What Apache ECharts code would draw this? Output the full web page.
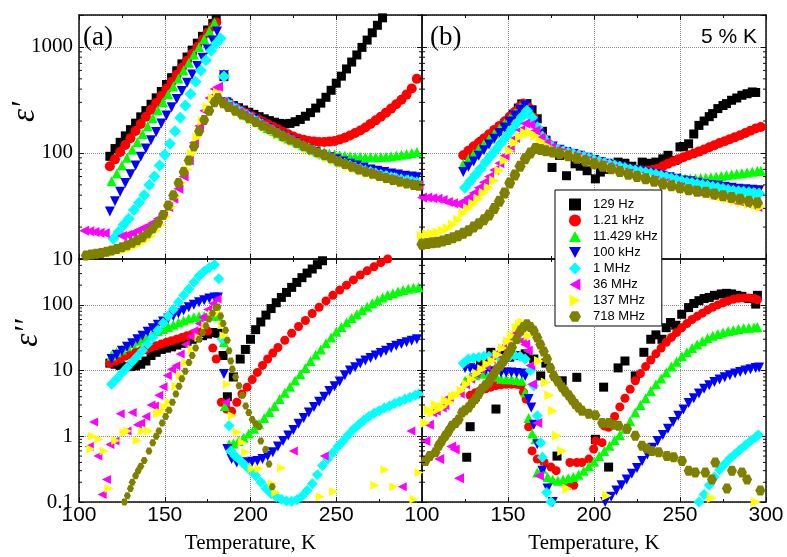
<!DOCTYPE html>
<html><head><meta charset="utf-8">
<script src="https://cdn.jsdelivr.net/npm/echarts@6.0.0/dist/echarts.min.js"></script>
<style>html,body{margin:0;padding:0;background:#fff}#main{width:787px;height:557px}</style>
</head><body><div id="main"></div>
<script>
// ---------------- DATA ----------------
const freqNames = ['129 Hz','1.21 kHz','11.429 kHz','100 kHz','1 MHz','36 MHz','137 MHz','718 MHz'];
const xTicks = [100,150,200,250,300];
const yTicksTop = [10,100,1000];
const yTicksBottom = [0.1,1,10,100];
const xTitle = 'Temperature, K';
const panelLabels = ['(a)','(b)'];
const sampleLabel = '5 % K';
const yTitles = ['ε′','ε′′'];

// Panel (a): eps' (top-left)
const A_129Hz = [[118,93],[121,110],[124,126],[127,145],[130,166],[133,191],[136,219],[139,251],[142,288],[145,331],[148,380],[151,442],[154,513],[157,596],[160,692],[163,803],[166,933],[169,1084],[172,1259],[175,1445],[178,1660],[180,1820],[184.5,525],[187,295],[190,280],[193,267],[196,254],[199,242],[202,231],[205,220],[208,210],[211,202],[214,195],[217,190],[220,188],[223,190],[226,197],[229,207],[232,222],[235,240],[238,265],[241,295],[244,335],[247,390],[250,455],[253,530],[256,620],[259,720],[262,840],[265,990],[268,1160],[271,1360],[274,1600],[277,1880]];
const A_1_21kHz = [[118,75],[121,87],[124,102],[127,119],[130,138],[133,161],[136,188],[139,219],[142,255],[145,296],[148,345],[151,402],[154,468],[157,545],[160,635],[163,740],[166,860],[169,1000],[172,1170],[175,1360],[178,1560],[180,1700],[186,300],[189,282],[192,265],[195,250],[198,236],[201,222],[204,210],[207,198],[210,187],[213,177],[216,167],[219,158],[222,150],[225,143],[228,137],[231,133],[234,130],[237,128],[240,127],[243,127],[246,128],[249,130],[252,134],[255,139],[258,146],[261,154],[264,163],[267,174],[270,188],[273,203],[276,220],[279,240],[282,262],[285,288],[288,318],[291,355],[294,405],[297,500]];
const A_11_429kHz = [[119,54],[122,64],[125,76],[128,90],[131,107],[134,127],[137,151],[140,179],[143,213],[146,253],[149,300],[152,357],[155,424],[158,503],[161,598],[164,710],[167,843],[170,1000],[173,1190],[176,1410],[179,1700],[184.5,560],[186,300],[189,277],[192,258],[195,242],[198,227],[201,212],[204,198],[207,186],[210,172],[213,162],[216,152],[219,145],[222,137],[225,130],[228,124],[231,118],[234,113],[237,109],[240,105],[243,102],[246,99],[249,97],[252,95],[255,94],[258,93],[261,92],[264,91.5],[267,91],[270,91],[273,91],[276,91.5],[279,92],[282,93],[285,94.5],[288,96],[291,98],[294,100],[297,102]];
const A_100kHz = [[118,28],[121,35],[124,43],[127,52],[130,63],[133,76],[136,92],[139,110],[142,132],[145,158],[148,190],[151,226],[154,270],[157,322],[160,385],[163,460],[166,550],[169,660],[172,790],[175,950],[178,1150],[180.5,1400],[184.5,540],[186,300],[190,272],[194,248],[198,228],[202,209],[206,190],[210,172],[214,158],[218,146],[222,136],[226,126],[230,117],[234,109],[238,102],[242,96],[246,91],[250,87],[254,83],[258,79],[262,76],[266,73],[270,70],[274,68],[278,66],[282,64],[286,62.5],[290,61],[294,60],[297,59]];
const A_1MHz = [[120,15.5],[123,18],[126,21],[129,24],[132,29],[135,34],[138,40],[141,50],[144,60],[147,76],[150,96],[153,122],[156,160],[159,215],[162,280],[165,360],[168,470],[171,600],[174,750],[177,920],[180,1080],[182.5,1200],[184.5,525],[186,300],[189,278],[192,260],[195,243],[198,228],[201,213],[204,198],[207,185],[210,172],[213,162],[216,152],[219,144],[222,136],[225,128],[228,121],[231,115],[234,109],[237,103],[240,98],[243,94],[246,90],[249,86],[252,82],[255,79],[258,76],[261,73],[264,70.5],[267,68],[270,66],[273,64],[276,62],[279,60.5],[282,59],[285,57.5],[288,56],[291,55],[294,54],[297,53]];
const A_36MHz = [[103,18.5],[106,18.3],[109,18],[112,17.7],[115,17.5],[125,16.5],[128,16.8],[131,17.5],[134,18.5],[137,19.5],[140,20.5],[143,22],[146,24],[149,27],[152,31],[155,37],[158,46],[161,60],[164,85],[167,125],[170,180],[173,250],[176,330],[179,400],[181,420],[184,300],[187,275],[190,258],[193,243],[196,229],[199,214],[202,200],[205,188],[208,176],[211,165],[214,156],[217,147],[220,139],[223,131],[226,124],[229,117],[232,111],[235,105],[238,100],[241,95],[244,91],[247,87],[250,83],[253,79],[256,76],[259,73],[262,70],[265,67.5],[268,65],[271,62.5],[274,60.5],[277,58.5],[280,57],[283,55.5],[286,54],[289,52.5],[292,51.5],[295,50.5],[298,49.5]];
const A_137MHz = [[118,11.5],[121,11.7],[124,12],[127,12.3],[130,12.7],[133,13.3],[136,14],[139,15],[142,16.5],[145,18.5],[148,21],[151,25],[154,31],[157,39],[160,52],[163,70],[166,98],[169,140],[172,200],[175,270],[178,330],[181,370],[185,290],[189,265],[193,243],[197,224],[201,205],[205,190],[209,174],[213,160],[217,148],[221,137],[225,127],[229,118],[233,110],[237,103],[241,96],[245,90],[249,85],[253,80],[257,75],[261,71],[265,67.5],[269,64.5],[273,61.5],[277,59],[281,56.5],[285,54.5],[289,52.5],[293,51],[297,49.5]];
const A_718MHz = [[104,10.8],[107,11],[110,11.2],[113,11.4],[116,11.7],[119,12],[122,12.4],[125,12.9],[128,13.5],[131,14.2],[134,15],[137,16],[140,17.5],[143,19.5],[146,22],[149,26],[152,32],[155,40],[158,52],[161,66],[164,85],[167,115],[170,160],[173,205],[176,250],[179,300],[181,330],[184,295],[187,272],[191,250],[195,231],[199,213],[203,196],[207,181],[211,167],[215,155],[219,143],[223,133],[227,124],[231,116],[235,108],[239,101],[243,95],[247,89],[251,83],[255,78.5],[259,74],[263,70],[267,66.5],[271,63.5],[275,60.5],[279,58],[283,55.5],[287,53.5],[291,51.5],[295,50],[298,49]];

// Panel (b): eps' (top-right)
const B_129Hz = [[126,95],[129,105],[132,116],[135,128],[138,138],[141,148],[144,160],[147,178],[150,200],[153,232],[156,265],[158,290],[161,292],[164,255],[167,210],[170,160],[172,132],[175.6,73],[180,95],[184,61],[189,79],[192,75],[196,68],[200.8,57],[203.7,66],[207,70],[211,78],[214,82],[218,80],[222,75],[228,82],[232,80],[236,82],[240,88],[243,95],[247,85],[250,114],[252,115],[255,122],[258,151],[261,182],[264,200],[267,220],[269,235],[272,262],[275,280],[277,292],[280,314],[283,330],[286,350],[289,362],[292,376],[294,372]];
const B_1_21kHz = [[124,95],[127,105],[130,115],[133,125],[136,137],[139,150],[142,165],[145,180],[148,198],[151,220],[154,245],[157,275],[159,292],[162,268],[165,215],[168,163],[171,135],[174,120],[177,110],[180,106],[183,103],[186,100],[189,97],[192,94],[195,90],[198,87],[201,84],[204,82],[207,79],[210,77],[213,75],[216,73],[219,71.5],[222,70],[225,69],[228,68.5],[231,68.5],[234,69],[237,71],[240,75],[243,79],[246,83],[249,87],[252,91],[255,95],[258,99],[261,103],[264,108],[267,113],[270,118],[273,124],[276,129],[279,135],[282,141],[285,147],[288,154],[291,162],[294,170],[297,176]];
const B_11_429kHz = [[124,79],[127,88],[130,98],[133,110],[136,122],[139,136],[142,152],[145,170],[148,190],[151,212],[154,238],[157,268],[160,292],[163,250],[166,195],[169,150],[172,128],[175,116],[178,110],[181,106],[184,103],[187,100],[190,97],[193,94],[196,91],[199,88],[202,85],[205,82],[208,79],[211,77],[214,75],[217,73],[220,71],[223,69],[226,67],[229,65.5],[232,64],[235,62.5],[238,61],[241,60],[244,59],[247,58.5],[250,58],[253,57.5],[256,57.5],[259,57.5],[262,58],[265,58.5],[268,59],[271,59.5],[274,60.5],[277,61.5],[280,62.5],[283,63.5],[286,64.5],[289,65.5],[292,66.5],[295,67.5],[297,68]];
const B_100kHz = [[124,66],[127,74],[130,83],[133,94],[136,106],[139,120],[142,136],[145,154],[148,174],[151,198],[154,225],[157,255],[160,282],[163,250],[166,195],[169,150],[172,128],[176,115],[180,107],[184,102],[188,98],[192,94],[196,90],[200,86],[204,82],[208,79],[212,76],[216,74],[220,71],[224,69],[228,67],[232,65],[236,63],[240,61],[244,59],[248,57],[252,55],[256,54],[260,52.5],[264,51],[268,50],[272,49],[276,48],[280,47],[284,46],[288,45.5],[292,45],[296,44.5]];
const B_1MHz = [[125,47],[128,54],[131,62],[134,71],[137,82],[140,94],[143,108],[146,124],[149,143],[152,165],[155,190],[158,218],[161,250],[164,215],[167,175],[170,143],[173,125],[176,114],[179,108],[182,104],[185,101],[188,98],[191,95],[194,92],[197,89],[200,86],[203,83],[206,80],[209,78],[212,76],[215,74],[218,72],[221,70],[224,68.5],[227,67],[230,65.5],[233,64],[236,62.5],[239,61],[242,59],[245,57.5],[248,56],[251,54.5],[254,53],[257,52],[260,51],[263,50],[266,49],[269,48],[272,47],[275,46],[278,45],[281,44],[284,43.5],[287,43],[290,42.5],[293,42],[296,41.5]];
const B_36MHz = [[100,38],[103,38],[106,37.5],[109,37],[112,36],[115,34.5],[118,33.5],[121,33],[124,35],[127,38],[130,42],[133,47],[136,53],[139,60],[142,69],[145,80],[148,94],[151,112],[154,138],[157,165],[160,190],[163,185],[166,163],[169,140],[172,124],[175,113],[178,106],[181,101],[184,97],[187,94],[190,91],[193,88],[196,85],[199,82],[202,79],[205,76],[208,74],[211,71],[214,68.5],[217,66],[220,64],[223,62],[226,60],[229,58],[232,56.5],[235,55],[238,53.5],[241,52],[244,50.5],[247,49],[250,47.5],[253,46],[256,44.5],[259,43],[262,42],[265,41],[268,40],[271,39],[274,38],[277,37],[280,36],[283,35],[286,34],[289,33],[292,32],[295,31]];
const B_137MHz = [[100,16.6],[103,17],[106,17.3],[109,17.8],[112,18.5],[115,19.5],[118,21],[121,23.5],[124,27],[127,30],[130,33],[133,37],[136,42],[139,47],[142,55],[145,68],[148,85],[151,105],[154,125],[157,142],[160,155],[163,155],[166,145],[169,130],[172,118],[175,110],[178,106],[182,101],[186,96],[190,92],[194,88],[198,84],[202,80],[206,77],[210,73],[214,70],[218,67],[222,64],[226,61],[230,59],[234,57],[238,54],[242,52],[246,50],[250,48],[254,46],[258,44.5],[262,43],[266,41.5],[270,40],[274,38.5],[278,37],[282,35.5],[286,34],[290,33],[294,32],[297,31]];
const B_718MHz = [[100,13.8],[103,14],[106,14.2],[109,14.4],[112,14.8],[115,15.3],[118,15.9],[121,16.6],[124,17.5],[127,18.5],[130,20],[133,21.5],[136,23.5],[139,26],[142,30],[145,35],[148,42],[151,52],[154,62],[157,75],[160,88],[163,100],[166,110],[169,108],[172,105],[176,102],[180,99],[185,94],[190,89],[195,84],[200,79],[205,75],[210,71],[215,67],[220,63],[225,60],[230,57],[235,54],[240,51],[245,49],[250,47],[255,45],[260,43.5],[265,42.5],[270,41],[275,39.5],[280,38],[285,36.5],[290,35],[295,34]];

// Panel (a): eps'' (bottom-left)
const C_129Hz = [[118,13],[121,12.5],[124,12],[127,11.5],[130,11.5],[133,11.8],[136,12.5],[139,14],[142,17],[145,19],[148,21],[151,22],[154,23],[157,24.5],[160,26],[163,28],[166,30],[169,32],[172,34],[175,36],[178,38],[181,37],[184,17],[186.5,4],[190,8],[194,15],[197,21],[200,30],[203,42],[206,55],[209,70],[212,88],[215,108],[218,130],[221,155],[224,185],[227,220],[230,260],[233,305],[236,352],[239,410],[242,470]];
const C_1_21kHz = [[118,13],[121,14],[124,15],[127,16.5],[130,17.5],[133,19],[136,20],[139,21],[142,22.5],[145,24],[148,25.5],[151,27],[154,28.5],[157,30],[160,32],[163,34],[166,36],[169,38],[172,39.5],[175,40],[178,22],[180,15],[183,3.3],[186,2.6],[189,2.4],[192,3.3],[195,4.4],[198,5.6],[201,7.3],[204,9.4],[207,12],[210,15],[213,18.5],[216,22.5],[220,29],[224,37],[228,47],[232,58],[236,74],[240,92],[244,115],[248,140],[252,168],[256,200],[260,240],[264,285],[268,330],[272,380],[276,440],[280,500]];
const C_11_429kHz = [[119,17],[122,19],[125,21],[128,23.5],[131,26],[134,28.5],[137,31],[140,34],[143,37],[146,40],[149,43],[152,46],[155,50],[158,54],[161,58],[164,62],[167,65],[170,67],[173,68],[176,69],[179,69],[181,68],[184.5,27],[185,2.9],[187.5,0.76],[190,0.78],[193,0.85],[196,0.95],[199,1.1],[202,1.3],[205,1.55],[208,1.9],[211,2.35],[214,2.9],[217,3.7],[220,4.6],[223,5.7],[226,7.1],[229,8.8],[232,11],[235,14],[238,17.5],[241,21],[244,26],[247,32],[250,39],[253,46],[256,54],[259,63],[262,72],[265,83],[268,94],[271,106],[274,118],[277,130],[280,141],[283,151],[286,160],[289,168],[292,176],[295,182],[298,186]];
const C_100kHz = [[119,15],[122,17.5],[125,20],[128,23],[131,26],[134,30],[137,34],[140,39],[143,44],[146,50],[149,56],[152,62],[155,68],[158,75],[161,83],[164,92],[167,101],[170,110],[173,118],[176,125],[179,130],[181,130],[184.5,8.9],[186.5,0.64],[189,0.45],[192,0.4],[195,0.4],[198,0.4],[201,0.41],[204,0.42],[207,0.45],[210,0.5],[213,0.57],[216,0.7],[219,0.85],[222,1.03],[225,1.25],[228,1.55],[231,1.9],[234,2.3],[237,2.8],[240,3.35],[243,4],[246,4.9],[249,5.8],[252,6.8],[255,8.5],[258,10],[261,11.3],[264,12.8],[267,14.2],[270,15.6],[273,17],[276,18.5],[279,20],[282,22],[285,24],[288,25.5],[291,27],[294,28.5],[297,30]];
const C_1MHz = [[119,6.2],[122,7.5],[125,9.2],[128,11.2],[131,13.6],[134,16.6],[137,20.3],[140,25.5],[143,32],[146,41],[149,53],[152,68],[155,85],[158,110],[161,140],[164,175],[167,222],[170,275],[173,325],[176,370],[179,410],[181.5,250],[183.5,30],[187.5,1.45],[188.5,0.6],[191,0.5],[194,0.43],[197,0.36],[200,0.3],[203,0.25],[206,0.2],[209,0.16],[212,0.135],[215,0.12],[218,0.11],[221,0.104],[224,0.103],[227,0.108],[230,0.122],[233,0.15],[236,0.19],[239,0.26],[242,0.36],[245,0.45],[248,0.56],[251,0.7],[254,0.85],[257,1.05],[260,1.28],[263,1.5],[266,1.75],[269,2.0],[272,2.25],[275,2.45],[278,2.7],[281,2.9],[284,3.15],[287,3.4],[290,3.65],[293,3.9],[296,4.2],[298,4.4]];
const C_36MHz = [[106,0.7],[108.5,1.65],[111,0.5],[113.5,0.13],[116,0.22],[118,0.75],[121,0.85],[124,2.2],[128,1.2],[131,2.3],[134,1.5],[136,1.6],[139,2.0],[142,3.0],[144,2.9],[146.5,4.2],[149,5.7],[151.5,8.4],[154,10.5],[156.5,11.9],[159,17.9],[162,25],[165,33],[167,40.5],[170,52],[172,65],[175,85],[178,105],[180.5,123],[185.5,3.3],[225,0.6],[243,0.5],[288.5,0.17],[293.5,1.2]];
const C_137MHz = [[106.8,0.64],[107.8,1.0],[111.7,0.9],[114.6,0.6],[117.5,0.16],[121.4,0.86],[126.2,1.13],[128.2,1.2],[134,0.86],[137,1.2],[140.8,1.2],[145.7,2.2],[147.6,2.3],[150,2.8],[152.5,3.3],[156.4,5.8],[159.3,8.4],[162.2,13.3],[166,21],[170,32],[173.9,48],[177.8,72],[181.6,76],[183.6,50],[184.5,34],[186.5,6.2],[189.4,2.05],[192.3,1.15],[195.2,0.81],[197.2,0.57],[201,0.32],[205,0.32],[212.7,0.19],[214.7,0.14],[218.2,0.33],[240.5,0.12],[248.5,0.145],[272.5,0.18],[278.4,0.31],[283.5,0.17],[295.3,0.11],[298.3,0.28]];
const C_718MHz = [[126.5,0.1],[128.2,0.124],[130,0.16],[131.1,0.2],[133,0.25],[134.5,0.3],[136,0.35],[138,0.43],[140.8,0.6],[143,0.8],[145,1.0],[146.6,1.2],[148.5,1.6],[150.5,2.0],[152.5,2.5],[154.5,3.3],[156.5,4.4],[158.3,5.8],[160,7.5],[162,9.8],[164.1,13.3],[166,17],[168,22],[170,30],[172,38],[174,48],[175.8,61],[177.8,75],[179.7,91],[181,93],[182.6,68],[184,52],[185.5,41],[186.5,29],[187.5,20],[188.5,14],[189.4,10.6],[191.3,8],[193.3,5.9],[195.2,4.2],[197.2,2.9],[199,2.3],[201,1.8],[203,1.55],[205,1.4],[206,0.85],[208.8,0.63],[210.8,0.38],[212.7,0.17]];

// Panel (b): eps'' (bottom-right)
const D_129Hz = [[126,0.48],[128,1.4],[131,4],[134,13],[137,15],[140,19],[143,2.6],[147,17],[151,16],[155,17],[160,18],[165,15],[169,8.3],[172,13],[178.5,0.5],[181.5,7],[190,7.9],[200.8,0.9],[205.6,5.6],[208.5,0.34],[214,11],[218,14],[224,8.3],[229,19],[233,30],[236,35],[239.5,30],[242,45],[244.5,54],[247.5,49],[251,72],[255,91],[258,105],[261,116],[264,125],[267,130],[270,140],[274,147],[277,150],[280,147],[283,140],[286,135],[290,125],[294,103],[295,140]];
const D_1_21kHz = [[128,4.2],[131,4.6],[134,5],[137,5.3],[140,5.6],[143,5.9],[146,6.1],[149,6.2],[152,6.2],[155,6.2],[157.5,6],[159,4.7],[160.5,3.7],[162,1.4],[164,0.6],[167,0.45],[171,0.4],[175,0.34],[178,0.3],[185.3,0.18],[188.2,0.18],[186,0.4],[190,0.4],[193,0.4],[197,0.45],[199.8,0.64],[201,0.85],[204.7,0.8],[206,1.44],[208.5,1.37],[212,2.0],[215,2.8],[218,3.8],[221,5.2],[224,7],[227,9],[230,11.5],[233,14.5],[236,18],[239,22],[242,27],[245,32],[248,38],[251,45],[254,52],[257,60],[260,67],[263,75],[266,84],[269,92],[272,100],[275,108],[278,115],[281,122],[284,126],[287,128],[290,128],[293,125],[295,120]];
const D_11_429kHz = [[125,7],[128,8],[131,8.5],[134,9],[137,9],[140,8.5],[143,8.3],[146,7.5],[149,7.4],[152,7.4],[155,7.2],[158,7],[160,4.7],[162,1.9],[164,1.1],[166,0.9],[167,0.28],[170,0.32],[173,0.24],[176,0.22],[179,0.21],[182,0.22],[185,0.23],[188,0.24],[191,0.26],[194,0.3],[197,0.35],[200,0.41],[203,0.5],[206,0.6],[209,0.72],[212,0.88],[215,1.05],[218,1.3],[221,1.7],[224,2.3],[227,3.0],[230,3.8],[233,4.9],[236,6.2],[239,7.6],[242,9.4],[245,11.5],[248,13.7],[251,16.5],[254,19],[257,22],[260,25],[263,28],[266,31],[269,34],[272,36],[275,38],[278,40],[281,41.5],[284,43],[287,44],[290,45],[293,45.5],[295,46]];
const D_100kHz = [[125,11],[128,11],[131,10.5],[134,10],[137,10],[140,9.8],[143,9.5],[146,9.4],[149,9.4],[152,9.4],[155,9.2],[158,9],[160,8.3],[162,3.7],[163.5,2.75],[165,1.5],[167,0.76],[170,0.3],[173,0.16],[176,0.1],[206.5,0.1],[210,0.12],[213,0.15],[216,0.18],[219,0.22],[222,0.27],[225,0.33],[228,0.42],[231,0.53],[234,0.67],[237,0.85],[240,1.05],[243,1.3],[246,1.65],[249,2.05],[252,2.55],[255,3.2],[258,3.8],[261,4.5],[264,5.3],[267,6],[270,6.7],[273,7.3],[276,7.9],[279,8.5],[282,9],[285,9.5],[288,10],[291,10.5],[294,11],[296,11.2]];
const D_1MHz = [[124,13],[127,15],[130,15.5],[133,16],[136,16.5],[139,16.5],[142,17],[145,16],[148,15.5],[151,16.5],[154,17],[157,16.5],[160,15],[163,10],[165,5.9],[167,2.05],[169,0.8],[170,0.48],[172.5,0.14],[175,0.1],[261,0.1],[264,0.13],[267,0.18],[270,0.24],[273,0.31],[276,0.38],[279,0.46],[282,0.54],[285,0.63],[288,0.73],[291,0.85],[294,0.98],[295.5,1.05]];
const D_36MHz = [[102,0.85],[104,1.5],[106,2.3],[108,2.45],[110,0.45],[111.5,2.75],[113,3],[115.5,3.9],[117,0.7],[119,0.63],[121.5,0.23],[122,4.5],[125,6.2],[128,7.5],[131,9],[134,10.5],[137,12],[140,15],[143,18],[146.5,22.6],[149.5,28],[152.5,34],[155,38],[157,40],[158,28.5],[160,25],[161.5,20],[163,12],[164,6.2],[167,1.6],[168,0.25]];
const D_137MHz = [[102,1.6],[104,2.5],[106,2.3],[108,3],[110,2.6],[112,2.8],[114,3.5],[116,3.3],[118,4],[120,4.2],[123,5],[126,6.2],[129,7.4],[132,9],[135,10.5],[138,12.5],[141,14],[144,17.5],[147,22],[150,28],[152.5,34],[155,44],[157,51],[158.5,54],[162,34],[168,14],[172,6.6],[174,4.2],[176,2.45],[178.5,1.02],[181.5,0.6],[184.5,0.16],[207.5,0.124],[268.5,0.115],[294,0.1]];
const D_718MHz = [[102,0.42],[104.5,0.5],[107.8,0.57],[109.7,0.72],[111.5,0.85],[113.6,1.02],[115.5,1.2],[117.4,1.45],[119.5,1.6],[121.3,1.8],[123.3,2.3],[125,2.5],[127.1,2.75],[129,3.2],[131,3.7],[133,4.4],[134.9,5.3],[136.9,6],[138.8,6.6],[140.5,8],[141.7,8.9],[143.5,10.5],[145.5,11.9],[147.5,14],[149.4,16.9],[151,19.5],[152.3,22.6],[155,30],[157.2,40.5],[159,46],[161,51],[163,46],[165,40.5],[167,32],[168.8,25],[170.8,19.5],[172.7,15],[174.6,11],[176.6,8.3],[179,6.8],[181.4,5.6],[183.3,4.8],[185.3,4.2],[187.2,3.6],[189.1,3.1],[191,2.75],[193,2.45],[196.9,2.2],[200.8,2.1],[204.7,1.6],[208.5,1.6],[211.4,1.5],[214.3,1.45],[219.2,1.3],[224,1.02],[227.9,0.72],[230.8,0.65],[233.7,0.6],[237.6,0.57],[242.4,0.5],[246.3,0.48],[251.2,0.42],[255,0.3],[258.9,0.28],[264.7,0.28],[268.6,0.22],[270.5,0.4],[277.3,0.16],[280.2,0.3],[286,0.28],[289,0.22],[296.7,0.15]];

const panelData = [
  [A_129Hz, A_1_21kHz, A_11_429kHz, A_100kHz, A_1MHz, A_36MHz, A_137MHz, A_718MHz],
  [B_129Hz, B_1_21kHz, B_11_429kHz, B_100kHz, B_1MHz, B_36MHz, B_137MHz, B_718MHz],
  [C_129Hz, C_1_21kHz, C_11_429kHz, C_100kHz, C_1MHz, C_36MHz, C_137MHz, C_718MHz],
  [D_129Hz, D_1_21kHz, D_11_429kHz, D_100kHz, D_1MHz, D_36MHz, D_137MHz, D_718MHz]
];

// ---------------- STYLE ----------------
const SERIF = '"Liberation Serif","Times New Roman",serif';
const SANS = '"Liberation Sans",Arial,sans-serif';
const colors = ['#000000','#ff0000','#00ff00','#0000ff','#00ffff','#ff00ff','#ffff00','#808000'];
const symbols = ['rect','circle','path://M5,0L10,9L0,9Z','path://M0,0L10,0L5,9Z','diamond',
  'path://M9,0L9,10L0,5Z','path://M0,0L0,10L9,5Z','path://M2.5,0L7.5,0L10,4.33L7.5,8.66L2.5,8.66L0,4.33Z'];
const symbolSizes = [
  [9,10,10,10,12,10,10,10],
  [9,10,10,10,12,10,10,11],
  [9,9,10,10,11,9,9,7],
  [9,9,10,10,11,10,10,10]
];
const grids = [
  {left:79, top:15, width:343, height:244},
  {left:422, top:15, width:344, height:244},
  {left:79, top:259, width:343, height:243},
  {left:422, top:259, width:344, height:243}
];
const yRanges = [[10,2000],[10,2000],[0.1,500],[0.1,500]];

function fmtLog(v){
  const l = Math.log10(v), r = Math.round(l);
  if (Math.abs(l - r) > 1e-6) return '';
  return r >= 0 ? String(Math.round(Math.pow(10, r))) : Math.pow(10, r).toFixed(-r);
}

const axisLine = {show:true, onZero:false, lineStyle:{color:'#111', width:1.5}};
const xAxes = [], yAxes = [];
grids.forEach((g, gi) => {
  const bottomRow = gi >= 2;
  ['bottom','top'].forEach((pos, k) => {
    const lab = bottomRow && k === 0;
    xAxes.push({
      type:'value', gridIndex:gi, position:pos, min:xTicks[0], max:xTicks[xTicks.length-1], interval:50,
      axisLine, axisTick:{show:true, inside:true, length:5, lineStyle:{color:'#111', width:1}},
      minorTick:{show:true, splitNumber:2, length:3, lineStyle:{color:'#111', width:1}},
      axisLabel:{show:lab, margin:3, fontFamily:SANS, fontSize:21, color:'#000',
        formatter: v => (gi === 2 && v === 300) ? '' : String(v)},
      splitLine:{show:k === 0, lineStyle:{color:'#8c8c8c', type:'dotted', width:1}},
      name: lab ? xTitle : '', nameLocation:'middle', nameGap:31,
      nameTextStyle:{fontFamily:SERIF, fontSize:21, color:'#000'}
    });
  });
  ['left','right'].forEach((pos, k) => {
    yAxes.push({
      type:'log', logBase:10, gridIndex:gi, position:pos, min:yRanges[gi][0], max:yRanges[gi][1],
      axisLine, axisTick:{show:true, inside:true, length:5, lineStyle:{color:'#111', width:1}},
      axisLabel:{show:(gi === 0 || gi === 2) && k === 0, margin:6, fontFamily:SERIF, fontSize:21, color:'#000', formatter:fmtLog},
      splitLine:{show:k === 0, lineStyle:{color:'#8c8c8c', type:'dotted', width:1}}
    });
  });
});

const series = [];
panelData.forEach((arrs, pi) => {
  arrs.forEach((d, i) => {
    series.push({
      type:'scatter', name:freqNames[i], xAxisIndex:pi*2, yAxisIndex:pi*2, data:d,
      symbol:symbols[i], symbolSize:symbolSizes[pi][i], itemStyle:{color:colors[i], opacity:1},
      silent:true, animation:false
    });
  });
});

const chart = echarts.init(document.getElementById('main'), null, {renderer:'canvas'});
chart.setOption({
  backgroundColor:'#fff', animation:false,
  grid: grids.map(g => Object.assign({containLabel:false}, g)),
  xAxis: xAxes, yAxis: yAxes, series,
  legend: {
    orient:'vertical', left:555, top:190, padding:[8,4,3,14], itemWidth:12, itemHeight:12, itemGap:3,
    backgroundColor:'#fff', borderColor:'#000', borderWidth:1, z:20, selectedMode:false,
    textStyle:{fontFamily:SANS, fontSize:13, color:'#000', padding:[0,0,0,7]}, data:freqNames
  }
});

// texts + log minor ticks (positions from library scales)
const gfx = [
  {type:'text', left:83, top:24, z:30, style:{text:panelLabels[0], font:'27px ' + SERIF, fill:'#000'}},
  {type:'text', left:430, top:24, z:30, style:{text:panelLabels[1], font:'27px ' + SERIF, fill:'#000'}},
  {type:'text', right:30, top:27, z:30, style:{text:sampleLabel, font:'21px ' + SANS, fill:'#000'}},
  {type:'text', x:25, y:112, rotation:Math.PI/2, z:30, style:{text:yTitles[0], font:'italic 33px ' + SERIF, fill:'#000', align:'center', verticalAlign:'middle'}},
  {type:'text', x:28, y:333, rotation:Math.PI/2, z:30, style:{text:yTitles[1], font:'italic 33px ' + SERIF, fill:'#000', align:'center', verticalAlign:'middle'}}
];
grids.forEach((g, gi) => {
  const xl = chart.convertToPixel({xAxisIndex:gi*2}, xTicks[0]);
  const xr = chart.convertToPixel({xAxisIndex:gi*2}, xTicks[xTicks.length-1]);
  const [mn, mx] = yRanges[gi];
  for (let e = Math.floor(Math.log10(mn)); e <= Math.ceil(Math.log10(mx)); e++) {
    for (let m = 2; m <= 9; m++) {
      const v = m * Math.pow(10, e);
      if (v <= mn || v >= mx) continue;
      const y = chart.convertToPixel({yAxisIndex:gi*2}, v);
      gfx.push({type:'line', silent:true, z:30, shape:{x1:xl, y1:y, x2:xl+3, y2:y}, style:{stroke:'#111', lineWidth:1}});
      gfx.push({type:'line', silent:true, z:30, shape:{x1:xr-3, y1:y, x2:xr, y2:y}, style:{stroke:'#111', lineWidth:1}});
    }
  }
});
chart.setOption({graphic: gfx});
</script></body></html>
